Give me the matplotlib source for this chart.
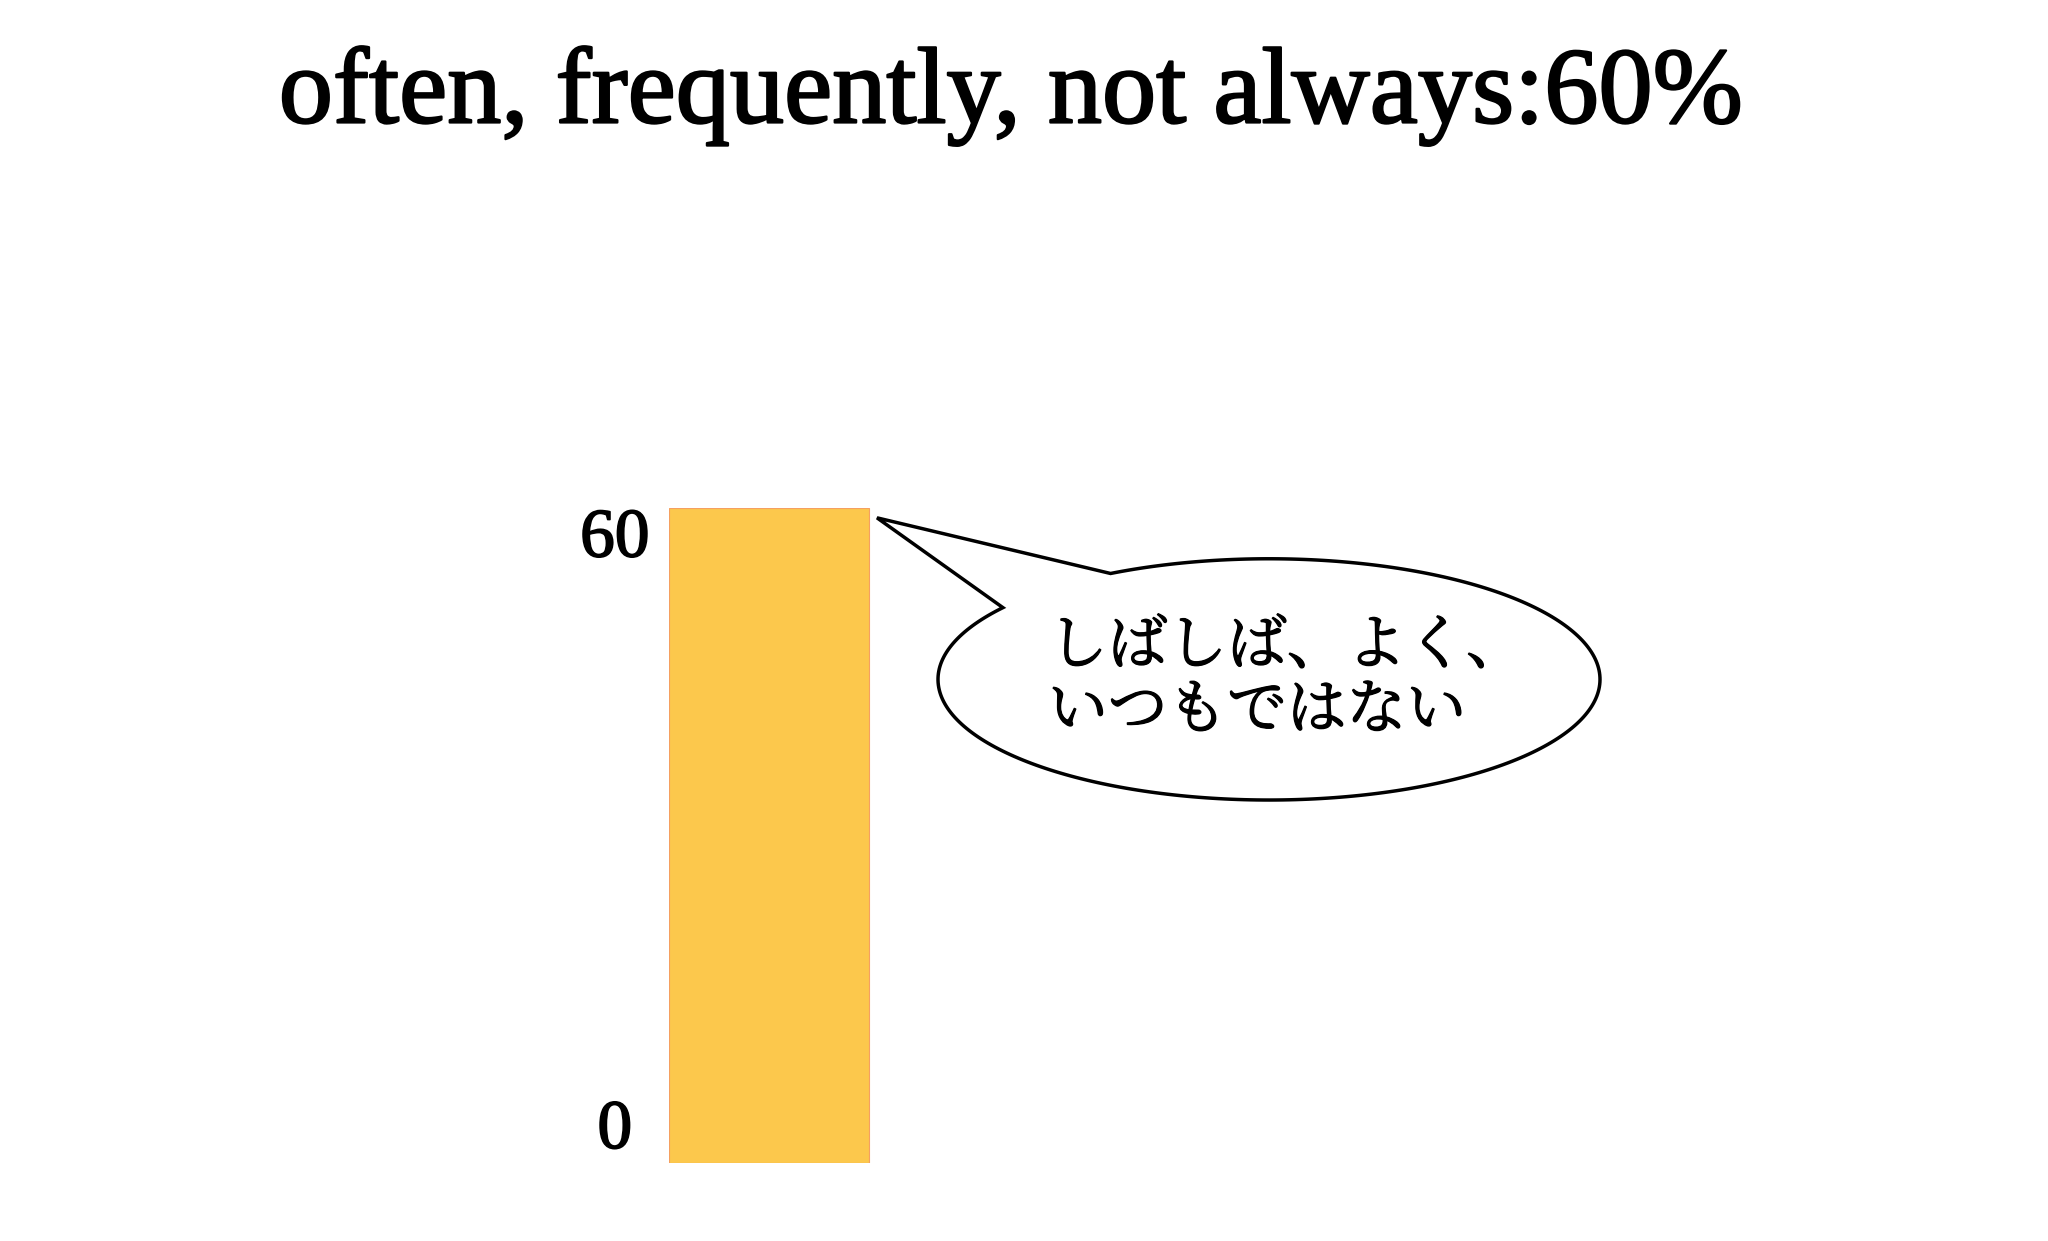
import numpy as np
import matplotlib
matplotlib.use("Agg")
import matplotlib.pyplot as plt
import matplotlib.patheffects as pe
from matplotlib.path import Path
from matplotlib.patches import PathPatch

title = "often, frequently, not always:60%"
categories = ["often"]
values = [60]
tick_values = [0, 60]
tick_labels = ["0", "60"]
bubble_text = "しばしば、よく、\nいつもではない"

bar_color = "#FCC84C"
edge_color = "#F5A060"


def bubble_path(cx, cy, a, b, t1, t2, tip):
    # ellipse outline the long way round, with a wedge out to the tip
    ts = np.radians(np.linspace(t1, t2 + 360, 300))
    pts = [(cx + a * np.cos(t), cy + b * np.sin(t)) for t in ts]
    pts.append(tip)
    pts.append(pts[0])
    codes = [Path.MOVETO] + [Path.LINETO] * (len(pts) - 2) + [Path.CLOSEPOLY]
    return Path(pts, codes)


def thick(w):
    return [pe.withStroke(linewidth=w, foreground="black")]


def main():
    fig = plt.figure(figsize=(20.48, 12.41), dpi=100)
    ax = fig.add_axes([669 / 2048, 78 / 1241, 1000 / 2048, 655 / 1241])

    ax.bar(range(len(values)), values, width=1, align="edge",
           color=bar_color, edgecolor=edge_color, linewidth=0.8)
    ax.set_xlim(0, 5)
    ax.set_ylim(0, max(values))

    ax.set_yticks(tick_values)
    ax.set_yticklabels(tick_labels, fontfamily="Liberation Serif", fontsize=50)
    ax.tick_params(axis="y", length=0, pad=39)
    labs = ax.get_yticklabels()
    labs[0].set_va("bottom")
    labs[-1].set_va("top")
    for lab in labs:
        lab.set_ha("center")
        lab.set_path_effects(thick(1.2))
    ax.set_xticks([])
    for s in ax.spines.values():
        s.set_visible(False)

    # speech bubble
    v = values[0]
    tip = (1.04, v * 0.985)
    path = bubble_path(3.0, 44.3, 1.655, 11.05, 143.5, 118.6, tip)
    ax.add_patch(PathPatch(path, facecolor="white", edgecolor="black",
                           linewidth=2.5, clip_on=False))
    ax.text(3.09, 44.3, bubble_text, ha="center", va="center", ma="left",
            fontsize=43, linespacing=1.0, path_effects=thick(0.9),
            family=["Noto Serif CJK JP", "Noto Sans CJK JP", "DejaVu Sans"])

    fig.text(0.4937, 1 - 96 / 1241, title, ha="center", va="center",
             fontsize=78, fontfamily="Liberation Serif",
             path_effects=thick(1.6))

    fig.savefig("out.png", dpi=100)


if __name__ == "__main__":
    main()
